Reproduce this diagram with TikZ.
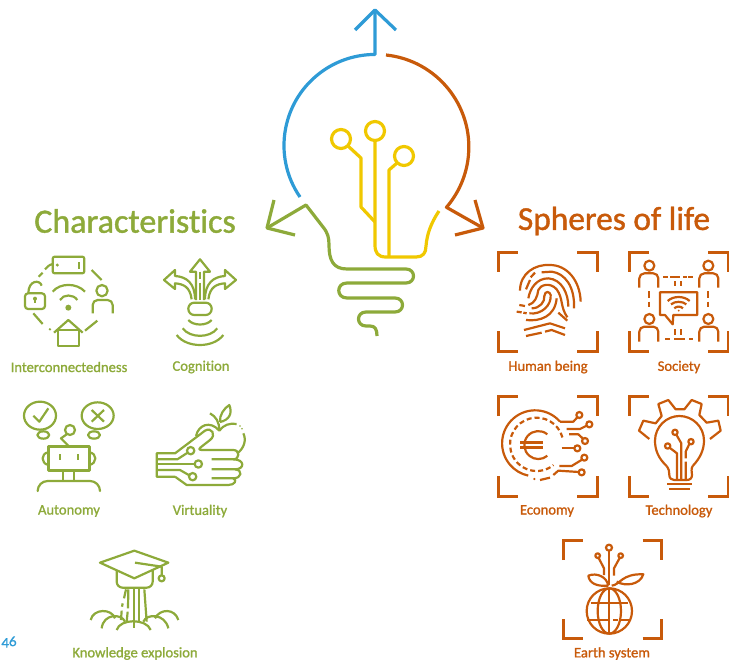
\documentclass[tikz,border=0pt]{standalone}
\usepackage{fontspec}
\setmainfont[Ligatures=NoCommon]{Carlito}
\newfontfamily\medf[Ligatures=NoCommon,FakeBold=1.2]{Carlito}
\definecolor{cblue}{RGB}{46,155,214}
\definecolor{corange}{RGB}{200,90,10}
\definecolor{cgreen}{RGB}{141,170,58}
\definecolor{cyellow}{RGB}{240,200,0}
\tikzset{
  zoomed/.style n args={2}{shift={(#1,#2)},x=.33333pt,y=-.33333pt},
  bulbline/.style={line width=3.2pt,line join=round},
  gi/.style={draw=cgreen,line width=2.2pt,line join=round,fill=none},
  oi/.style={draw=corange,line width=2.2pt,line join=round,fill=none},
  brk/.style={draw=corange,line width=3pt,line join=miter},
  glabel/.style={text=cgreen,font=\fontsize{14.6}{16}\medf,inner sep=0pt},
  olabel/.style={text=corange,font=\fontsize{14.6}{16}\medf,inner sep=0pt},
  dsh/.style={dash pattern=on 7pt off 3.5pt},
}
\begin{document}
\begin{tikzpicture}[x=1pt,y=-1pt]
\useasboundingbox (0,0) rectangle (729,661);
% ---------- central bulb ----------
\draw[bulbline,cblue] (300,197) arc[start angle=145.5,end angle=270,radius=91] -- (375,10);
\draw[bulbline,cblue] (355,30) -- (375,10) -- (396,30);
\draw[bulbline,corange] (386,55) arc[start angle=276,end angle=400.7,radius=92.5] -- (483,228);
\draw[bulbline,corange] (475,200) -- (483,228) -- (455,235);
\draw[bulbline,cgreen] (274,200) -- (267,228) -- (295,235);
\draw[bulbline,cgreen,line cap=butt] (267,228) -- (306,205) -- (323,227)
  .. controls (328,233) and (329,238) .. (329,245)
  .. controls (329,260) and (333,269) .. (347,269)
  -- (406,269) .. controls (416,269) and (416,283) .. (406,283)
  -- (347,283) .. controls (336,283) and (336,298) .. (347,298)
  -- (395,298) .. controls (405,298) and (405,312) .. (395,312)
  -- (366,312) .. controls (356,312) and (356,326) .. (366,326)
  -- (370,326) .. controls (375,326) and (377,329) .. (377,336);
\draw[bulbline,cyellow] (341,139) circle[radius=9.5] (375,131) circle[radius=9.5] (404,156) circle[radius=9.5];
\draw[bulbline,cyellow] (348,146) -- (361,158) -- (361,207) -- (375,222);
\draw[bulbline,cyellow] (375,141) -- (375,245) .. controls (375,253) and (378,257) .. (386,257)
  -- (416,257) .. controls (423,257) and (426,253) .. (426,246) .. controls (427,234) and (431,223) .. (439,211);
\draw[bulbline,cyellow] (397,163) -- (389,170) -- (389,257);
% ---------- titles ----------
\node[text=cgreen,font=\fontsize{34}{36}\medf,inner sep=0pt] (tchar) at (135,221) {Characteristics};
\node[text=corange,font=\fontsize{33.4}{36}\medf,inner sep=0pt] (tsph) at (614,221) {Spheres of life};
% ---------- Interconnectedness / Cognition ----------
\begin{scope}[zoomed={0}{240}]
  \draw[gi,rounded corners=2pt] (158,50) rectangle (253,100);
  \fill[cgreen] (172,75) circle[radius=5];
  \draw[gi] (237,67) -- (237,87);
  \draw[gi] (158,72) -- (147,76);
  \draw[gi] (147,76) -- (135,88) (128,98) -- (116,110);
  \draw[gi] (275,90) -- (305,120);
  \draw[gi] (100,220) -- (128,252);
  \fill[cgreen] (150,268) circle[radius=4];
  \draw[gi] (255,272) -- (292,242);
  % padlock
  \draw[gi,rounded corners=3pt] (75,160) rectangle (135,207);
  \draw[gi] (85,160) .. controls (85,120) and (120,118) .. (125,137);
  \fill[cgreen] (105,176) circle[radius=6];
  \draw[gi] (105,176) -- (105,190);
  % wifi
  \fill[cgreen] (205,203) circle[radius=9];
  \draw[gi] (180,180) .. controls (190,162) and (220,162) .. (232,180);
  \draw[gi] (158,155) .. controls (180,128) and (230,128) .. (255,155);
  % person
  \draw[gi] (306,152) circle[radius=17];
  \draw[gi,rounded corners=5pt] (278,220) -- (278,180) -- (338,180) -- (338,220);
  % house
  \draw[gi] (175,270) rectangle (238,318);
  \draw[gi] (162,278) -- (205,240) -- (248,278);
  % cognition
  \draw[gi,rounded corners=6pt] (565,188) rectangle (635,225);
  \draw[gi] (565,240) .. controls (580,258) and (620,258) .. (635,240);
  \draw[gi] (548,265) .. controls (570,295) and (630,295) .. (652,265);
  \draw[gi] (530,285) .. controls (560,325) and (640,325) .. (670,285);
  \draw[gi] (588,180) -- (588,95) -- (570,95) -- (600,58) -- (630,95) -- (612,95) -- (612,180);
  \draw[gi] (600,95) -- (600,118) (600,128) -- (600,180);
  \draw[gi] (575,178) .. controls (570,140) and (550,132) .. (525,130) -- (525,147) -- (492,120) -- (525,90) -- (525,108)
     .. controls (560,110) and (585,130) .. (585,178);
  \draw[gi] (625,178) .. controls (630,140) and (650,132) .. (675,130) -- (675,147) -- (708,120) -- (675,90) -- (675,108)
     .. controls (640,110) and (615,130) .. (615,178);
\end{scope}
\node[glabel] (l1) at (69,367) {Interconnectedness};
\node[glabel] (l2) at (201,367) {Cognition};
% ---------- Autonomy ----------
\begin{scope}[zoomed={0}{395}]
  \draw[gi] (120,62) ellipse[x radius=48,y radius=42];
  \draw[gi] (100,62) -- (118,80) -- (145,40);
  \draw[gi] (293,62) ellipse[x radius=48,y radius=40];
  \draw[gi] (275,45) -- (312,80) (312,45) -- (275,80);
  \draw[gi] (130,120) ellipse[x radius=18,y radius=11];
  \draw[gi] (282,120) ellipse[x radius=18,y radius=11];
  \draw[gi] (210,105) circle[radius=15];
  \draw[gi] (200,118) -- (183,130) -- (205,152);
  \draw[gi,line width=3pt] (145,153) rectangle (268,227);
  \draw[gi] (180,177) -- (180,196) (235,177) -- (235,196);
  \draw[gi] (145,172) .. controls (122,175) and (122,205) .. (145,210);
  \draw[gi] (268,172) .. controls (292,175) and (292,205) .. (268,210);
  \draw[gi] (190,227) -- (190,258) (222,227) -- (222,258);
  \draw[gi,rounded corners=10pt] (113,287) -- (113,258) -- (300,258) -- (300,287);
\end{scope}
% ---------- Virtuality ----------
\begin{scope}[zoomed={150}{400}]
  \draw[gi] (75,230) -- (20,230) -- (20,160) -- (75,160) -- (165,92)
     .. controls (185,80) and (200,105) .. (180,120) -- (152,142)
     .. controls (145,148) and (148,150) .. (158,150) -- (250,150)
     .. controls (270,150) and (270,178) .. (250,178) -- (185,178);
  \draw[gi] (250,178) .. controls (285,178) and (285,208) .. (255,208) -- (185,208);
  \draw[gi] (255,208) .. controls (280,210) and (275,235) .. (250,235) -- (185,235);
  \draw[gi] (250,235) .. controls (262,240) and (255,255) .. (235,255) -- (110,255) -- (75,230);
  \draw[gi] (20,178) -- (82,178) -- (113,158);
  \draw[gi] (122,152) circle[radius=11];
  \draw[gi] (20,192) -- (134,192);
  \draw[gi] (145,192) circle[radius=11];
  \draw[gi] (20,210) -- (90,210) -- (118,226);
  \draw[gi] (128,230) circle[radius=11];
  \draw[gi] (138,108) .. controls (145,75) and (180,60) .. (208,92) .. controls (220,75) and (240,68) .. (260,72);
  \fill[cgreen] (270,78) circle[radius=2.5] (276,86) circle[radius=2.5];
  \draw[gi] (280,100) .. controls (290,120) and (282,145) .. (262,160);
  \draw[gi] (208,92) .. controls (208,65) and (198,50) .. (180,40);
  \draw[gi] (210,66) .. controls (208,45) and (222,25) .. (238,15) .. controls (248,40) and (238,60) .. (210,66);
\end{scope}
\node[glabel] (l3) at (69,511) {Autonomy};
\node[glabel] (l4) at (200,511) {Virtuality};
% ---------- Knowledge explosion ----------
\begin{scope}[zoomed={0}{540}]
  \draw[gi] (300,68) -- (403,32) -- (505,68) -- (403,115) -- cycle;
  \draw[gi,rounded corners=6pt] (350,90) -- (350,143) -- (458,143) -- (458,90);
  \draw[gi] (405,68) -- (485,80) -- (485,105);
  \draw[gi] (485,115) circle[radius=9];
  \draw[gi] (378,148) -- (372,175) (368,190) -- (366,200) (365,212) -- (363,240);
  \draw[gi] (385,148) -- (384,205) (383,215) -- (380,245);
  \draw[gi] (402,148) -- (402,265);
  \draw[gi] (418,148) -- (418,250);
  \draw[gi] (433,148) -- (440,245);
  \draw[gi] (272,240) .. controls (280,205) and (335,205) .. (345,235);
  \draw[gi] (305,265) .. controls (310,220) and (365,220) .. (375,245);
  \draw[gi] (350,270) .. controls (360,235) and (440,235) .. (452,270);
  \draw[gi] (430,245) .. controls (440,220) and (495,220) .. (505,265);
  \draw[gi] (465,235) .. controls (480,205) and (525,205) .. (535,240);
\end{scope}
\node[glabel] (l5) at (135,653.5) {Knowledge explosion};
\node[text=cblue,font=\fontsize{15}{16}\medf\addfontfeatures{Numbers=OldStyle},inner sep=0pt] (pg) at (9,642) {46};
% ---------- Human being ----------
\begin{scope}[zoomed={490}{245}]
  \draw[brk] (25,80) -- (25,22) -- (85,22) (262,22) -- (322,22) -- (322,80) (25,258) -- (25,318) -- (85,318) (262,318) -- (322,318) -- (322,258);
\end{scope}
\begin{scope}[zoomed={510}{260}]
  \draw[oi] (30,92) .. controls (30,40) and (75,12) .. (120,15) .. controls (170,15) and (210,60) .. (212,125);
  \draw[oi] (48,88) -- (60,60) (62,52) -- (75,38);
  \draw[oi] (95,37) -- (125,35) .. controls (165,40) and (195,80) .. (192,145);
  \draw[oi] (55,115) .. controls (60,85) and (80,55) .. (115,55) .. controls (155,58) and (175,100) .. (175,140);
  \draw[oi] (28,135) -- (45,138);
  \draw[oi] (55,135) .. controls (75,130) and (82,110) .. (85,90) .. controls (90,75) and (120,65) .. (140,88) .. controls (160,115) and (150,140) .. (172,172);
  \draw[oi] (20,155) -- (35,157) (40,158) -- (50,160);
  \draw[oi] (58,160) .. controls (95,165) and (125,135) .. (122,105) .. controls (120,95) and (105,90) .. (103,108) .. controls (105,125) and (90,145) .. (65,145);
  \draw[oi] (48,180) .. controls (90,185) and (135,170) .. (140,115);
  \draw[oi] (145,158) -- (172,182);
  \draw[oi] (42,210) -- (120,190) -- (165,205);
  \draw[oi] (48,228) -- (95,218) (105,215) -- (125,210) -- (165,225);
\end{scope}
% ---------- Society ----------
\begin{scope}[zoomed={490}{245}]
  \draw[brk] (418,80) -- (418,22) -- (478,22) (655,22) -- (715,22) -- (715,80) (418,258) -- (418,318) -- (478,318) (655,318) -- (715,318) -- (715,258);
  \draw[oi] (478,62) circle[radius=15] (655,62) circle[radius=15] (478,222) circle[radius=15] (655,222) circle[radius=15];
  \draw[oi,rounded corners=5pt] (448,128) -- (448,85) -- (505,85) -- (505,128);
  \draw[oi,rounded corners=5pt] (628,128) -- (628,85) -- (685,85) -- (685,128);
  \draw[oi,rounded corners=5pt] (448,290) -- (448,245) -- (505,245) -- (505,290);
  \draw[oi,rounded corners=5pt] (628,290) -- (628,245) -- (685,245) -- (685,290);
  \draw[oi] (520,97) -- (535,97) (540,97) -- (570,97) (580,97) -- (590,97) (595,97) -- (610,97);
  \draw[oi] (556,108) -- (556,124) (574,108) -- (574,124);
  \draw[oi,dsh] (478,138) -- (478,187);
  \draw[oi,dsh] (655,138) -- (655,187);
  \draw[oi] (510,142) -- (622,142) -- (622,210) -- (550,210) -- (548,238) -- (525,210) -- (510,210) -- cycle;
  \draw[oi] (553,190) .. controls (560,183) and (572,183) .. (579,190);
  \draw[oi] (543,178) .. controls (555,168) and (577,168) .. (589,178);
  \draw[oi] (533,168) .. controls (550,152) and (582,152) .. (599,168);
  \fill[corange] (566,197) circle[radius=3];
  \draw[oi] (525,282) -- (540,282) (552,282) -- (585,282) (598,282) -- (610,282);
  \draw[oi] (556,252) -- (556,270) (574,252) -- (574,270);
\end{scope}
\node[olabel] (r1) at (548,367) {Human being};
\node[olabel] (r2) at (679,367) {Society};
% ---------- Economy ----------
\begin{scope}[zoomed={490}{390}]
  \draw[brk] (25,78) -- (25,20) -- (85,20) (262,20) -- (322,20) -- (322,78) (25,258) -- (25,318) -- (85,318) (262,318) -- (322,318) -- (322,258);
\end{scope}
\begin{scope}[zoomed={495}{405}]
  \draw[oi] (195,50) arc[start angle=-41,end angle=-258,radius=99];
  \draw[oi] (195,50) -- (235,50) -- (248,36);
  \draw[oi] (253,30) circle[radius=9];
  \fill[corange] (118,222) circle[radius=3.5];
  \draw[oi] (135,225) -- (165,218);
  \draw[oi,dash pattern=on 5pt off 3pt] (202.3,97.3) arc[start angle=-15,end angle=-309,radius=80];
  \draw[oi] (157,88) arc[start angle=-50,end angle=-310,radius=42];
  \draw[oi,line width=2.6pt] (75,113) -- (145,113) (75,128) -- (145,128);
  \draw[oi] (283,58) circle[radius=9];
  \draw[oi] (215,72) -- (255,72) -- (275,62);
  \draw[oi] (270,108) circle[radius=9];
  \draw[oi] (222,88) -- (250,88) -- (264,101);
  \draw[oi] (247,130) circle[radius=9];
  \draw[oi] (200,130) -- (238,130);
  \draw[oi] (268,158) circle[radius=9];
  \draw[oi] (193,183) -- (230,183) -- (261,164);
  \draw[oi] (260,202) circle[radius=9];
  \draw[oi] (175,210) -- (190,197) -- (251,201);
\end{scope}
% ---------- Technology ----------
\begin{scope}[zoomed={490}{390}]
  \draw[brk] (418,78) -- (418,20) -- (478,20) (655,20) -- (715,20) -- (715,78) (418,258) -- (418,318) -- (478,318) (655,318) -- (715,318) -- (715,258);
  \draw[oi] (530,228) .. controls (505,205) and (495,180) .. (495,152) .. controls (495,110) and (530,78) .. (568,78)
     .. controls (608,78) and (642,110) .. (642,152) .. controls (642,180) and (630,205) .. (608,228);
  \draw[oi] (530,228) .. controls (537,238) and (538,245) .. (538,255) .. controls (538,265) and (545,270) .. (552,270) -- (590,270) .. controls (600,270) and (606,265) .. (606,255) .. controls (606,245) and (602,238) .. (608,228);
  \draw[oi] (532,283) -- (605,283) (538,297) -- (600,297);
  \draw[oi] (478,147) -- (447,122) -- (460,92) -- (497,100) -- (515,78) -- (505,42) -- (535,30) -- (557,58) -- (583,58) -- (605,30) -- (635,42) -- (628,75) -- (650,98) -- (685,92) -- (692,122) -- (660,147);
  \draw[oi] (555,127) circle[radius=8];
  \draw[oi] (559,134) -- (574,160) -- (574,268);
  \draw[oi] (533,168) circle[radius=8];
  \draw[oi] (540,174) -- (561,190) -- (561,268);
  \draw[oi] (603,155) circle[radius=8];
  \draw[oi] (598,162) -- (587,185) -- (587,205) (587,215) -- (587,268);
\end{scope}
\node[olabel] (r3) at (547,511) {Economy};
\node[olabel] (r4) at (679,511) {Technology};
% ---------- Earth system ----------
\begin{scope}[zoomed={550}{535}]
  \draw[brk] (40,75) -- (40,17) -- (98,17) (278,17) -- (335,17) -- (335,75) (40,253) -- (40,310) -- (98,310) (278,310) -- (335,310) -- (335,253);
  \draw[oi] (178,228) circle[radius=68];
  \draw[oi] (178,228) ellipse[x radius=35,y radius=68];
  \draw[oi] (178,160) -- (178,296);
  \draw[oi] (122,205) -- (234,205);
  \draw[oi] (112,255) -- (180,255) (190,255) -- (205,255) (212,255) -- (242,255);
  \draw[oi] (177,38) circle[radius=9];
  \draw[oi] (177,47) -- (177,150);
  \draw[oi] (143,62) circle[radius=7];
  \draw[oi] (146,69) -- (162,100) -- (162,120);
  \draw[oi] (212,62) circle[radius=7];
  \draw[oi] (209,69) -- (192,100) -- (192,122);
  \draw[oi] (175,152) .. controls (140,155) and (118,145) .. (115,122) .. controls (140,112) and (170,125) .. (175,152);
  \draw[oi] (185,152) .. controls (210,150) and (215,115) .. (280,118) .. controls (270,150) and (225,155) .. (200,140);
\end{scope}
\node[olabel] (r5) at (612,653.5) {Earth system};
\end{tikzpicture}
\end{document}
